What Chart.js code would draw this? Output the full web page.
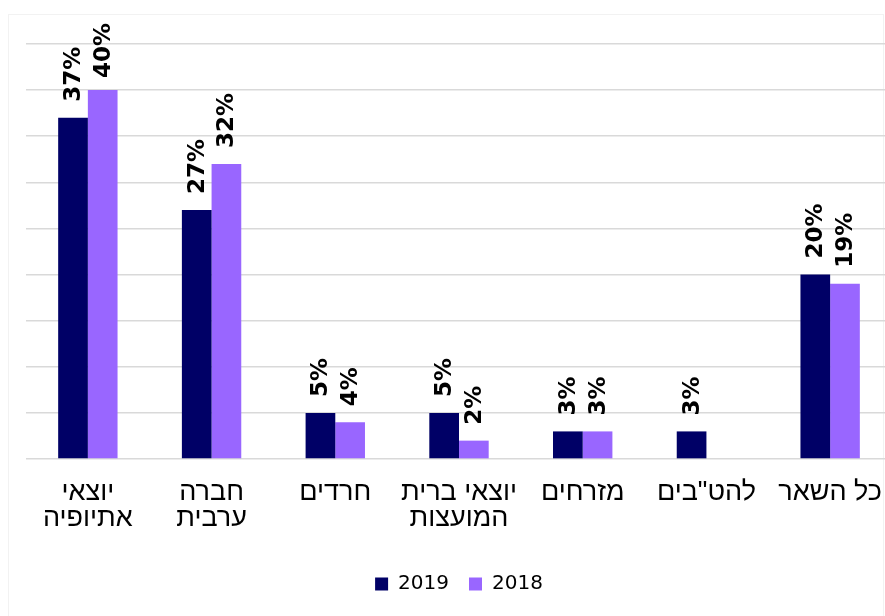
<!DOCTYPE html>
<html lang="he">
<head>
<meta charset="utf-8">
<script src="https://cdn.jsdelivr.net/npm/chart.js@4.4.1/dist/chart.umd.min.js"></script>
<style>
    html, body { margin: 0; padding: 0; background: #fff; overflow: hidden; }
    .wrap { position: relative; width: 885px; height: 616px; overflow: hidden; }
    .frame { position: absolute; left: 8px; top: 14px; width: 876px; height: 620px; border: 1px solid #f2f2f2; box-sizing: border-box; }
    canvas { position: absolute; left: 0; top: 0; }
</style>
</head>
<body>
<div class="wrap">
    <div class="frame"></div>
    <canvas id="barChart" width="918" height="616"></canvas>
</div>
<script>
const categories = [
    ['יוצאי', 'אתיופיה'],
    ['חברה', 'ערבית'],
    'חרדים',
    ['יוצאי ברית', 'המועצות'],
    'מזרחים',
    'להט"בים',
    'כל השאר'
];
const values2019 = [37, 27, 5, 5, 3, 3, 20];
const values2018 = [40, 32, 4, 2, 3, null, 19];
const seriesNames = ['2019', '2018'];

// rotated value labels above each bar
const barLabels = {
    id: 'barLabels',
    afterDatasetsDraw(chart) {
        const { ctx } = chart;
        ctx.save();
        ctx.font = 'bold 23px "DejaVu Sans"';
        ctx.fillStyle = '#000';
        ctx.textAlign = 'left';
        ctx.textBaseline = 'middle';
        chart.data.datasets.forEach((ds, i) => {
            chart.getDatasetMeta(i).data.forEach((bar, j) => {
                const v = ds.data[j];
                if (v === null || v === undefined) return;
                const text = v + '%';
                const w = ctx.measureText(text).width;
                let start = bar.y - 16;
                if (start - w < 23) start = 23 + w;
                ctx.save();
                ctx.translate(bar.x + 1, start);
                ctx.rotate(-Math.PI / 2);
                ctx.fillText(text, 0, 0);
                ctx.restore();
            });
        });
        ctx.restore();
    }
};

new Chart(document.getElementById('barChart').getContext('2d'), {
    type: 'bar',
    data: {
        labels: categories,
        datasets: [
            { label: seriesNames[0], data: values2019, backgroundColor: '#000066', borderWidth: 0 },
            { label: seriesNames[1], data: values2018, backgroundColor: '#9966ff', borderWidth: 0 }
        ]
    },
    options: {
        responsive: false,
        animation: false,
        categoryPercentage: 0.48,
        barPercentage: 1.0,
        layout: { padding: { top: 44, left: 26, right: 26, bottom: 12 } },
        plugins: {
            tooltip: { enabled: false },
            legend: {
                position: 'bottom',
                labels: {
                    boxWidth: 13,
                    boxHeight: 13,
                    padding: 20,
                    color: '#000',
                    font: { family: 'DejaVu Sans', size: 20 }
                }
            }
        },
        scales: {
            x: {
                grid: { display: false },
                border: { display: false },
                afterFit: (axis) => { axis.height += 10; },
                ticks: {
                    color: '#000',
                    padding: 12,
                    maxRotation: 0,
                    autoSkip: false,
                    font: { family: 'Liberation Sans', size: 27, lineHeight: 0.98 }
                }
            },
            y: {
                min: 0,
                max: 45,
                ticks: { stepSize: 5, display: false },
                grid: { color: '#d9d9d9', lineWidth: 1.5, drawTicks: false },
                border: { display: false }
            }
        }
    },
    plugins: [barLabels]
});
</script>
</body>
</html>
